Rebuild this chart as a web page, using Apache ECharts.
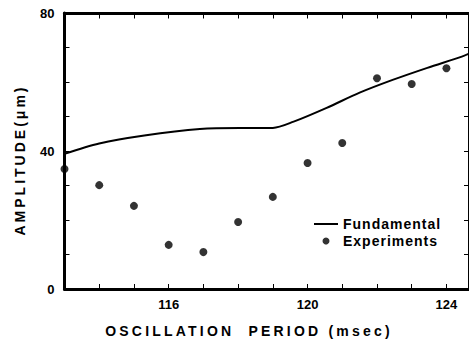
<!DOCTYPE html>
<html>
<head>
<meta charset="utf-8">
<script src="https://cdn.jsdelivr.net/npm/echarts@6/dist/echarts.min.js"></script>
<style>
  html, body { margin: 0; padding: 0; background: #fff; }
  #chart { width: 469px; height: 342px; }
</style>
</head>
<body>
<div id="chart"></div>
<script>
// Fundamental curve (period msec, amplitude um)
const fundPeriod = [113, 114.0, 115.3, 116.9, 118.05, 119.0, 119.6, 120.55, 121.5, 122.45, 123.45, 124.4, 124.65];
const fundAmp = [39.2, 42.2, 44.5, 46.4, 46.7, 46.7, 48.5, 52.5, 56.9, 60.6, 64.1, 67.2, 68.2];

// Experiments
const expPeriod = [113, 114, 115, 116, 117, 118, 119, 120, 121, 122, 123, 124];
const expAmp = [34.8, 30.1, 24.1, 12.8, 10.7, 19.4, 26.7, 36.5, 42.3, 61.1, 59.4, 64.0];

const xLabels = [116, 120, 124];
const yLabels = [0, 40, 80];

const FONT = "'Liberation Sans', Arial, sans-serif";

const chart = echarts.init(document.getElementById("chart"), null, { renderer: "svg" });

// fresh objects for each axis so nothing is shared between them
const ticks = (inside) => ({ show: true, inside, length: 5, lineStyle: { color: "#000", width: 1 } });
const frameLine = (w) => ({ show: true, onZero: false, lineStyle: { color: "#000", width: w } });

chart.setOption({
  animation: false,
  grid: [
    { left: 64.5, top: 13, right: 0, bottom: 53 },
    // thin strip along the top edge, carries the top frame and its ticks
    { left: 64.5, top: 12.5, right: 0, height: 1 },
  ],
  xAxis: [
    {
      type: "value",
      min: 113,
      max: 124.65,
      interval: 1,
      axisLine: frameLine(3),
      axisTick: ticks(true),
      splitLine: { show: false },
      axisLabel: {
        margin: 9,
        fontFamily: FONT,
        fontSize: 13,
        fontWeight: "bold",
        color: "#000",
        showMaxLabel: false,
        formatter: (v) => (xLabels.includes(v) ? String(v) : ""),
      },
    },
    {
      type: "value",
      position: "top",
      min: 113,
      max: 124.65,
      interval: 1,
      axisLine: frameLine(3),
      axisTick: ticks(true),
      splitLine: { show: false },
      axisLabel: { show: false },
    },
    {
      type: "value",
      gridIndex: 1,
      position: "bottom",
      min: 113,
      max: 124.65,
      interval: 1,
      axisLine: frameLine(3),
      axisTick: ticks(false),
      splitLine: { show: false },
      axisLabel: { show: false },
    },
  ],
  yAxis: [
    {
      type: "value",
      min: 0,
      max: 80,
      interval: 10,
      axisLine: frameLine(3),
      axisTick: ticks(true),
      splitLine: { show: false },
      axisLabel: {
        margin: 10,
        fontFamily: FONT,
        fontSize: 13,
        fontWeight: "bold",
        color: "#000",
        formatter: (v) => (yLabels.includes(v) ? String(v) : ""),
      },
    },
    {
      type: "value",
      position: "right",
      min: 0,
      max: 80,
      interval: 10,
      axisLine: frameLine(2),
      axisTick: ticks(true),
      splitLine: { show: false },
      axisLabel: { show: false },
    },
    {
      type: "value",
      gridIndex: 1,
      min: 0,
      max: 1,
      show: false,
    },
  ],
  legend: {
    orient: "vertical",
    left: 308,
    top: 212,
    itemWidth: 24,
    itemHeight: 7,
    itemGap: 3,
    textStyle: { fontFamily: FONT, fontSize: 14, fontWeight: "bold", color: "#000" },
    data: [
      { name: "Fundamental", itemStyle: { opacity: 0 } },
      { name: "Experiments" },
    ],
  },
  series: [
    {
      name: "Fundamental",
      type: "line",
      data: fundPeriod.map((p, i) => [p, fundAmp[i]]),
      smooth: 0.3,
      symbol: "none",
      lineStyle: { color: "#000", width: 2 },
      itemStyle: { color: "#000" },
    },
    {
      name: "Experiments",
      type: "scatter",
      data: expPeriod.map((p, i) => [p, expAmp[i]]),
      symbolSize: 8,
      itemStyle: { color: "#000" },
    },
  ],
});

// axis titles
chart.setOption({
  graphic: [
    {
      type: "text",
      x: 249,
      y: 331,
      style: {
        text: "OSCILLATION  PERIOD (msec)",
        fontFamily: FONT,
        fontSize: 14,
        fontWeight: "bold",
        fill: "#000",
        align: "center",
        verticalAlign: "middle",
      },
    },
    {
      type: "text",
      x: 20,
      y: 160,
      rotation: Math.PI / 2,
      style: {
        text: "AMPLITUDE(\u03bcm)",
        fontFamily: FONT,
        fontSize: 14,
        fontWeight: "bold",
        fill: "#000",
        align: "center",
        verticalAlign: "middle",
      },
    },
  ],
});

// spread the letters of the titles like the typeset original
const spacing = { "OSCILLATION  PERIOD (msec)": 3.2, "AMPLITUDE(\u03bcm)": 3, "Fundamental": 1, "Experiments": 1 };
const spreadText = () => {
  chart.getDom().querySelectorAll("text").forEach((t) => {
    const s = spacing[t.textContent];
    if (s) t.setAttribute("letter-spacing", s);
  });
};
chart.on("finished", spreadText);
setTimeout(spreadText, 0);
</script>
</body>
</html>
